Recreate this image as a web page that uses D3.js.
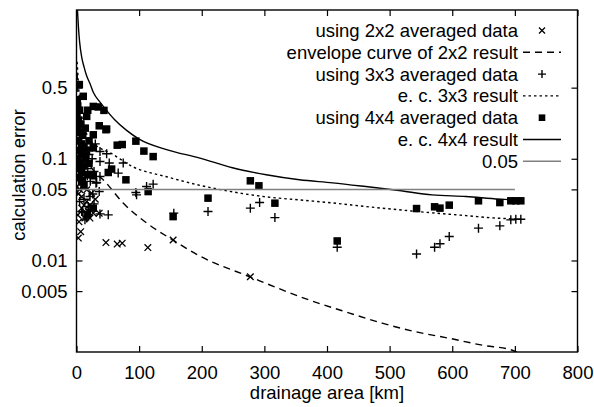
<!DOCTYPE html>
<html><head><meta charset="utf-8">
<script src="https://cdn.jsdelivr.net/npm/d3@7"></script>
<style>
body{margin:0;background:#fff}
text{font-family:"Liberation Sans",Arial,Helvetica,sans-serif;}
</style>
</head><body>
<svg id="c" width="594" height="407"></svg>
<script>
// ---------- data ----------
const xTicks = [0,100,200,300,400,500,600,700,800];
const yTicks = [0.005,0.01,0.05,0.1,0.5];
const yTickLabels = ["0.005","0.01","0.05","0.1","0.5"];
const seriesNames = ["using 2x2 averaged data","envelope curve of 2x2 result","using 3x3 averaged data",
  "e. c. 3x3 result","using 4x4 averaged data","e. c. 4x4 result","0.05"];

const data2x2 = [[10.8,0.0554],[16.3,0.0495],[24.2,0.0459],[8.3,0.0425],[16.3,0.0379],[8.3,0.0327],
 [18.8,0.0303],[26.8,0.0292],[36.3,0.0292],[13.5,0.0261],[21.5,0.0261],[6.7,0.0192],[2.9,0.0166],
 [47,0.015],[65,0.0145],[73,0.0148],[113.9,0.0134],[154.3,0.0159],[277.6,0.00692],[21.5,0.0352],
 [3,0.045],[5,0.05],[12,0.035],[2,0.028],[4,0.024],[30,0.04]];

const env2x2 = [[1,0.7],[3,0.35],[6,0.2],[10,0.14],[16,0.1],[25,0.08],[45.4,0.0598],[74.1,0.0369],
 [111.9,0.0234],[153.8,0.0159],[196.8,0.01106],[276.5,0.00692],[372,0.00408],[436,0.00304],
 [488,0.00242],[542,0.00199],[595,0.00172],[648,0.00147],[696,0.00131],[703,0.00126]];

const data3x3 = [[37.5,0.118],[48.1,0.112],[74.6,0.0907],[37.5,0.094],[17.2,0.068],[32.2,0.0584],
 [94.8,0.0466],[111.9,0.0533],[122.4,0.0563],[52.3,0.0907],[66.6,0.0723],[37.5,0.067],[31.1,0.0576],
 [36.3,0.0476],[95.9,0.0442],[21.5,0.0425],[18.8,0.0339],[8.3,0.0303],[21.5,0.0315],[16.3,0.0261],
 [37.5,0.0287],[50.7,0.0281],[155.4,0.0292],[13.5,0.0251],[210,0.0303],[277.6,0.0327],[292.4,0.0371],
 [316.8,0.0264],[416.3,0.0135],[543,0.0116],[571.8,0.0135],[580.4,0.0146],[595.2,0.0172],[641.9,0.0208],
 [676,0.0219],[693.5,0.0251],[701.5,0.0254],[709.5,0.0254],
 [3,0.2],[5,0.16],[8,0.14],[12,0.13],[15,0.12],[20,0.11],[25,0.1],[6,0.09],[10,0.085],[18,0.08],
 [28,0.075],[4,0.07],[14,0.065],[22,0.06],[9,0.055],[2,0.05],[26,0.045],[12,0.04],[5,0.038],
 [28,0.036],[10,0.03],[3,0.12],[25,0.13],[30,0.14]];

const env3x3 = [[1,0.9],[2,0.7],[4,0.45],[7,0.3],[12,0.21],[21.5,0.154],[35,0.13],[53.4,0.1146],
 [90,0.0834],[144,0.0665],[197,0.0548],[249,0.0473],[303,0.0422],[356,0.0394],[409,0.0368],
 [462,0.0339],[515,0.0315],[568,0.0294],[622,0.0276],[675,0.026],[701,0.0257]];

const data4x4 = [[4.5,0.536],[1.3,0.381],[10.8,0.411],[0.8,0.261],[16.3,0.261],[26.8,0.327],[34.7,0.323],
 [43.8,0.299],[36.3,0.211],[48.1,0.196],[26.8,0.172],[65,0.136],[73,0.138],[94.8,0.149],[107.6,0.119],
 [122.4,0.105],[50.7,0.0733],[56.1,0.0792],[78.9,0.0621],[26.8,0.068],[114.4,0.0476],[26.8,0.0327],
 [17.2,0.0281],[154.3,0.027],[210,0.041],[277.6,0.0607],[291.3,0.0542],[316.8,0.0366],[416.3,0.01556],
 [543,0.0324],[571.8,0.0337],[580.4,0.0327],[595.2,0.035],[641.9,0.0386],[676,0.0371],[693.5,0.0386],
 [701.5,0.0386],[709.5,0.0386],
 [2,0.33],[5,0.3],[3,0.24],[7,0.22],[2,0.2],[6,0.18],[10,0.17],[3,0.15],[8,0.14],[12,0.13],[4,0.12],
 [26.8,0.128],[47,0.193],[9,0.11],[2,0.1],[14,0.1],[6,0.09],[11,0.085],[3,0.08],[8,0.075],[18,0.07],
 [5,0.065],[8.3,0.06],[12,0.055],[20,0.09],[16,0.12],[20,0.15],[14,0.2],[18,0.3]];

const env4x4 = [[1.5,2.9],[3,2.0],[5,1.4],[8.3,1.0],[12,0.8],[16.3,0.65],[21.5,0.55],[26.8,0.45],
 [37.5,0.36],[45,0.315],[61,0.242],[80,0.19],[100,0.156],[143.7,0.123],[197,0.1016],[249,0.0815],
 [303,0.0696],[356,0.0621],[409,0.058],[462,0.0533],[515,0.0487],[568,0.0442],[622,0.0425],
 [675,0.0401],[701,0.0394]];

const threshold = [[0,0.05],[700,0.05]];

// ---------- layout ----------
const L = 76.5, R = 577.5, T = 10, B = 352;
const FS = 18.5;
const svg = d3.select("#c");
const x = d3.scaleLinear().domain([0,800]).range([L,R]);
const y = d3.scaleLog().domain([0.00126,2.9]).range([B,T]);

svg.append("defs").append("clipPath").attr("id","clip")
  .append("rect").attr("x",L).attr("y",T).attr("width",R-L).attr("height",B-T);

// axes
function styleAxis(g){
  g.select(".domain").remove();
  g.selectAll(".tick line").attr("stroke","#000").attr("stroke-width",1.2);
  g.selectAll("text").attr("font-size",FS).attr("fill","#000")
    .attr("font-family",'"Liberation Sans",Arial,sans-serif');
}
svg.append("g").attr("transform",`translate(0,${B})`)
  .call(d3.axisBottom(x).tickValues(xTicks).tickSize(-6).tickPadding(14).tickFormat(d3.format("d")))
  .call(styleAxis);
svg.append("g").attr("transform",`translate(0,${T})`)
  .call(d3.axisTop(x).tickValues(xTicks).tickSize(-6).tickFormat(""))
  .call(styleAxis);
svg.append("g").attr("transform",`translate(${L},0)`)
  .call(d3.axisLeft(y).tickValues(yTicks).tickSize(-6).tickPadding(9)
     .tickFormat((d,i)=>yTickLabels[yTicks.indexOf(d)]))
  .call(styleAxis);
svg.append("g").attr("transform",`translate(${R},0)`)
  .call(d3.axisRight(y).tickValues(yTicks).tickSize(-6).tickFormat(""))
  .call(styleAxis);

svg.append("rect").attr("x",L).attr("y",T).attr("width",R-L).attr("height",B-T)
  .attr("fill","none").attr("stroke","#000").attr("stroke-width",1.4);

// axis titles
svg.append("text").attr("x",(L+R)/2).attr("y",399).attr("text-anchor","middle")
  .attr("font-size",FS).text("drainage area [km]");
svg.append("text").attr("transform",`translate(25,175) rotate(-90)`).attr("text-anchor","middle")
  .attr("font-size",FS).text("calculation error");

// markers
const plot = svg.append("g").attr("clip-path","url(#clip)");
const line = d3.line().x(d=>x(d[0])).y(d=>y(d[1])).curve(d3.curveMonotoneX);

function crossPath(cx,cy,s){return `M${cx-s},${cy-s}L${cx+s},${cy+s}M${cx-s},${cy+s}L${cx+s},${cy-s}`;}
function plusPath(cx,cy,s){return `M${cx-s},${cy}L${cx+s},${cy}M${cx},${cy-s}L${cx},${cy+s}`;}

function drawX(g,data){g.selectAll(null).data(data).enter().append("path")
  .attr("d",d=>crossPath(x(d[0]),y(d[1]),3.3)).attr("stroke","#000").attr("stroke-width",1.3).attr("fill","none");}
function drawPlus(g,data){g.selectAll(null).data(data).enter().append("path")
  .attr("d",d=>plusPath(x(d[0]),y(d[1]),4.5)).attr("stroke","#000").attr("stroke-width",1.4).attr("fill","none");}
function drawSq(g,data){g.selectAll(null).data(data).enter().append("rect")
  .attr("x",d=>x(d[0])-3.75).attr("y",d=>y(d[1])-3.75).attr("width",7.5).attr("height",7.5).attr("fill","#000");}

const styles = {
  e2:{stroke:"#000",dash:"7,5",w:1.4},
  e3:{stroke:"#000",dash:"2.5,3",w:1.4},
  e4:{stroke:"#000",dash:null,w:1.4},
  th:{stroke:"#808080",dash:null,w:1.5}
};
function drawLine(g,data,st){
  g.append("path").datum(data).attr("d",line).attr("fill","none").attr("stroke",st.stroke)
   .attr("stroke-width",st.w).attr("stroke-dasharray",st.dash);
}

drawX(plot,data2x2);
drawLine(plot,env2x2,styles.e2);
drawPlus(plot,data3x3);
drawLine(plot,env3x3,styles.e3);
drawSq(plot,data4x4);
drawLine(plot,env4x4,styles.e4);
drawLine(plot,threshold,styles.th);

// legend
const lg = svg.append("g");
const textX = 518, s0 = 523, s1 = 561, sc = 542;
const rows = seriesNames.map((n,i)=>({n,i,yy:30.5+21.8*i}));
lg.selectAll("text").data(rows).enter().append("text")
  .attr("x",textX).attr("y",d=>d.yy).attr("dy","0.35em").attr("text-anchor","end")
  .attr("font-size",FS).text(d=>d.n);
function legLine(yy,st){
  lg.append("line").attr("x1",s0).attr("x2",s1).attr("y1",yy).attr("y2",yy)
   .attr("stroke",st.stroke).attr("stroke-width",st.w).attr("stroke-dasharray",st.dash);
}
lg.append("path").attr("d",crossPath(sc,rows[0].yy,3)).attr("stroke","#000").attr("stroke-width",1.3);
legLine(rows[1].yy,styles.e2);
lg.append("path").attr("d",plusPath(sc,rows[2].yy,4)).attr("stroke","#000").attr("stroke-width",1.4);
legLine(rows[3].yy,styles.e3);
lg.append("rect").attr("x",sc-3.3).attr("y",rows[4].yy-3.3).attr("width",6.6).attr("height",6.6).attr("fill","#000");
legLine(rows[5].yy,styles.e4);
legLine(rows[6].yy,styles.th);
</script>
</body></html>
